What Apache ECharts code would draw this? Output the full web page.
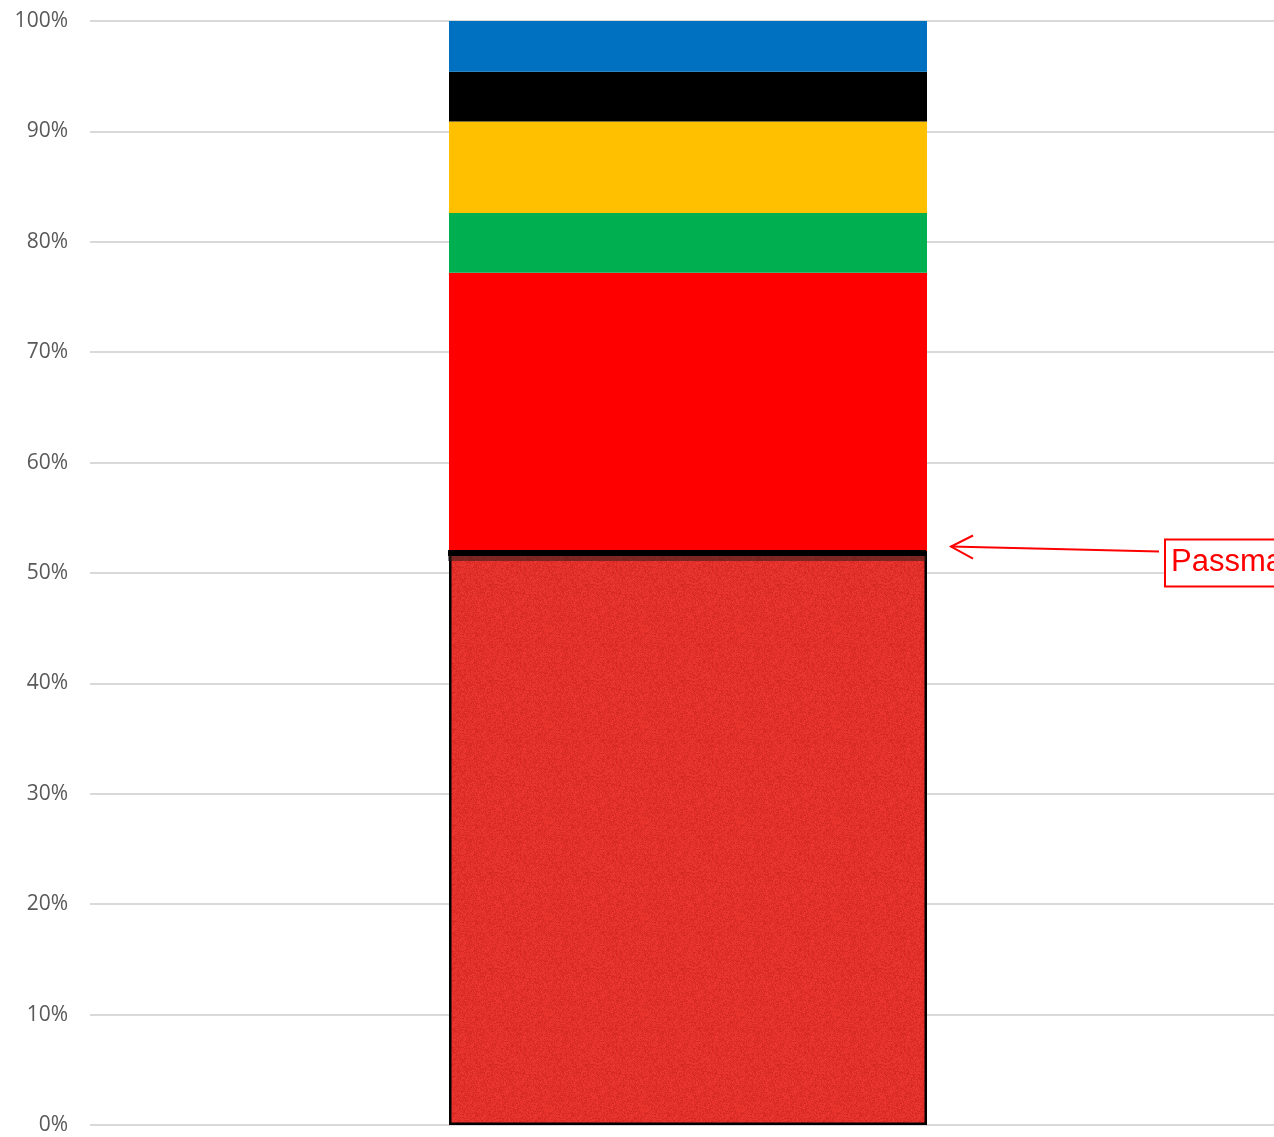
<!DOCTYPE html>
<html>
<head>
<meta charset="utf-8">
<script src="https://cdn.jsdelivr.net/npm/echarts@6/dist/echarts.min.js"></script>
<style>
html,body{margin:0;padding:0;background:#fff;}
#chart{width:1274px;height:1137px;}
</style>
</head>
<body>
<div id="chart"></div>
<script>
// ---- data ----
var categories = [''];
var seriesNames = ['Base', 'Red', 'Green', 'Yellow', 'Black', 'Blue'];
var baseValues = [52.0];
var redValues = [25.2];
var greenValues = [5.4];
var yellowValues = [8.3];
var blackValues = [4.5];
var blueValues = [4.6];
var yTicks = [0, 10, 20, 30, 40, 50, 60, 70, 80, 90, 100];
var annotationText = 'Passmark';
var annotationValue = 52.4;

// deterministic speckle texture (styling only)
function makeTexture() {
  var c = document.createElement('canvas');
  c.width = 96; c.height = 96;
  var ctx = c.getContext('2d');
  var img = ctx.createImageData(96, 96);
  var s = 12345;
  function rnd() { s = (s * 1103515245 + 12345) & 0x7fffffff; return s / 0x7fffffff; }
  for (var i = 0; i < 96 * 96; i++) {
    var d = (rnd() - 0.5) * 30;
    img.data[i * 4] = Math.max(0, Math.min(255, 226 + d));
    img.data[i * 4 + 1] = Math.max(0, Math.min(255, 48 + d * 0.6));
    img.data[i * 4 + 2] = Math.max(0, Math.min(255, 42 + d * 0.6));
    img.data[i * 4 + 3] = 255;
  }
  ctx.putImageData(img, 0, 0);
  return c;
}

var chart = echarts.init(document.getElementById('chart'));
var barW = 478;
function seg(name, data, color, extra) {
  var s = {
    name: name, type: 'bar', stack: 'total', data: data, barWidth: barW,
    xAxisIndex: 1, yAxisIndex: 1,
    itemStyle: { color: color }, silent: true
  };
  if (extra) for (var k in extra) s[k] = extra[k];
  return s;
}

var yMin = yTicks[0], yMax = yTicks[yTicks.length - 1];
var option = {
  animation: false,
  backgroundColor: '#ffffff',
  grid: [
    { left: 90, right: 0, top: 21, bottom: 12, containLabel: false },
    { left: 102, right: 0, top: 21, bottom: 12, containLabel: false }
  ],
  xAxis: [
    { type: 'category', gridIndex: 0, data: categories, show: false },
    { type: 'category', gridIndex: 1, data: categories, show: false }
  ],
  yAxis: [
    {
      type: 'value', gridIndex: 0, min: yMin, max: yMax, interval: 10,
      axisLine: { show: false }, axisTick: { show: false },
      axisLabel: {
        formatter: function (v) { return v + '%'; },
        color: '#595959', fontSize: 21, fontFamily: 'Open Sans, Calibri, sans-serif', margin: 22
      },
      splitLine: { lineStyle: { color: '#d9d9d9', width: 2 } }
    },
    { type: 'value', gridIndex: 1, min: yMin, max: yMax, interval: 10, show: false, splitLine: { show: false } }
  ],
  series: [
    seg(seriesNames[0], baseValues, null,
      { itemStyle: { color: { image: makeTexture(), repeat: 'repeat' }, borderColor: '#000000', borderWidth: 2.5 } }),
    seg(seriesNames[1], redValues, '#FF0000'),
    seg(seriesNames[2], greenValues, '#00B050'),
    seg(seriesNames[3], yellowValues, '#FFC000'),
    seg(seriesNames[4], blackValues, '#000000'),
    seg(seriesNames[5], blueValues, '#0070C0')
  ]
};
chart.setOption(option);

// annotation positioned through the chart's own scales
var yA = chart.convertToPixel({ yAxisIndex: 1 }, annotationValue);
var yBase = chart.convertToPixel({ yAxisIndex: 1 }, baseValues[0]);
var xC = chart.convertToPixel({ xAxisIndex: 1 }, 0);
var barRight = xC + barW / 2;
var tipX = barRight + 24;
var boxX = barRight + 238;
chart.setOption({
  graphic: [
    { type: 'line', z: 100, shape: { x1: boxX - 6, y1: yA + 5, x2: tipX, y2: yA }, style: { stroke: '#FF0000', lineWidth: 2 } },
    { type: 'polyline', z: 100, shape: { points: [[tipX + 22, yA - 11], [tipX, yA], [tipX + 22, yA + 12]] }, style: { stroke: '#FF0000', lineWidth: 2, fill: null } },
    { type: 'rect', z: 100, shape: { x: boxX, y: yA - 7, width: 200, height: 47 }, style: { stroke: '#FF0000', lineWidth: 2, fill: '#ffffff' } },
    { type: 'text', z: 101, x: boxX + 6, y: yA + 16, style: { text: annotationText, fill: '#FF0000', font: '31px "Liberation Sans", Arial, sans-serif', verticalAlign: 'middle' } },
    { type: 'rect', z: 100, shape: { x: xC - barW / 2 - 1, y: yBase - 1, width: barW, height: 6 }, style: { fill: '#000000' } },
    { type: 'rect', z: 100, shape: { x: xC - barW / 2 - 1, y: yBase + 5, width: barW, height: 5 }, style: { fill: 'rgba(40,30,30,0.55)' } }
  ]
});
</script>
</body>
</html>
